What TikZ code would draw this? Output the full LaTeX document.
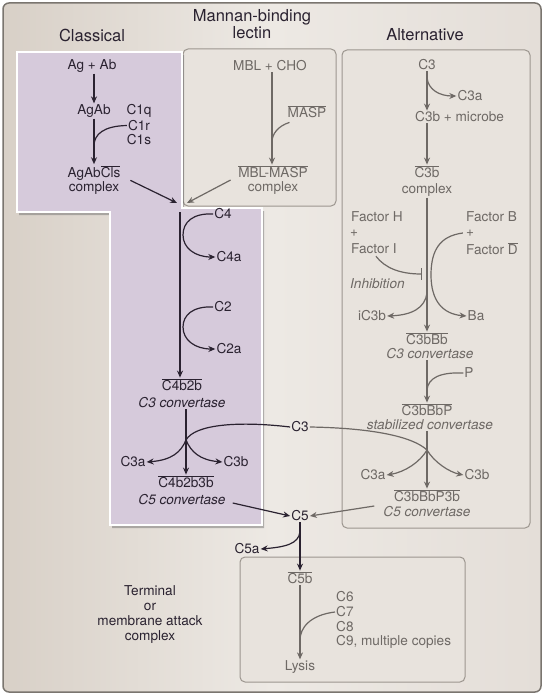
\documentclass[tikz,border=0pt]{standalone}
\usepackage{fontspec}
\setmainfont{TeX Gyre Heros}
\usetikzlibrary{arrows.meta,calc}
\definecolor{ink}{HTML}{2A2230}
\definecolor{gink}{HTML}{6E6965}
\definecolor{purp}{HTML}{D6CADB}
\definecolor{bgL}{HTML}{D8D0C7}
\definecolor{bgM}{HTML}{EDE9E4}
\definecolor{bgR}{HTML}{E4DED8}
\definecolor{boxf}{HTML}{E8E3DD}
\definecolor{boxd}{HTML}{9C968F}
\definecolor{framec}{HTML}{7A756F}
\newcommand\ovl[1]{$\overline{\mbox{#1}}$}
\begin{document}
\begin{tikzpicture}[x=1pt,y=-1pt,
 tx/.style={font=\fontsize{13.6}{15}\selectfont, inner sep=1pt, text=ink},
 gt/.style={tx, text=gink},
 itl/.style={font=\fontsize{13.6}{15}\selectfont\itshape},
 ttl/.style={font=\fontsize{16.5}{17}\selectfont, text=ink, align=center},
 arr/.style={draw=ink, line width=1.2pt, -{Stealth[length=7pt,width=6pt]}},
 ln/.style={draw=ink, line width=1.2pt},
 garr/.style={draw=gink, line width=1.2pt, -{Stealth[length=7pt,width=6pt]}},
 gln/.style={draw=gink, line width=1.2pt},
 pbox/.style={rounded corners=5pt, fill=boxf, draw=boxd, line width=1pt}]
\useasboundingbox (0,0) rectangle (544,695);
% frame
\shade[left color=bgL, right color=bgR, middle color=bgM, rounded corners=6pt] (3,3) rectangle (541,692);
\draw[framec, line width=1.5pt, rounded corners=6pt] (3,3) rectangle (541,692);
% boxes
\draw[pbox] (183,49) rectangle (336,206);
\draw[pbox] (342,50) rectangle (530,528);
\draw[pbox] (240,557) rectangle (465,682);
% purple region
\fill[black!60, opacity=0.45] (19,55) -- (184,55) -- (184,211) -- (264,211) -- (264,528) -- (112,528) -- (112,215) -- (19,215) -- cycle;
\filldraw[fill=purp, draw=white, line width=1.5pt] (17,52) -- (182,52) -- (182,208) -- (262,208) -- (262,525) -- (110,525) -- (110,212) -- (17,212) -- cycle;

% titles
\node[ttl] (tcl) at (92,35) {Classical};
\node[ttl] (tmbl) at (252,24) {Mannan-binding\\lectin};
\node[ttl] (talt) at (425,35) {Alternative};

% classical
\node[tx] (agab0) at (92,66) {Ag + Ab};
\node[tx] (agab) at (94,111) {AgAb};
\node[tx] (c1q) at (139,111) {C1q};
\node[tx] (c1r) at (139,125.5) {C1r};
\node[tx] (c1s) at (139,140) {C1s};
\node[tx] (agabcls) at (94,173) {AgAb\ovl{Cls}};
\node[tx] (cx1) at (94,188) {complex};
\draw[arr] (agab.north |- agab0.south) -- (agab.north);
\draw[arr] (agab.south) -- (agabcls.north);
\draw[ln] (c1r.west) .. controls (104,126) and (94,134) .. ($(agab.south)!0.6!(agabcls.north)$);
\coordinate (jn) at (182,206);
\draw[arr] ($(cx1.north east)+(10,0)$) -- ($(jn)+(-5,-3)$);

% MBL
\node[gt] (mbl) at (270,66) {MBL + CHO};
\node[gt] (masp) at (307,112) {\ovl{MASP}};
\node[gt] (mblmasp) at (273,172) {\ovl{MBL-MASP}};
\node[gt] (cx2) at (273,188) {complex};
\draw[garr] ($(mbl.south)+(2,0)$) -- ($(mblmasp.north)+(-1,0)$);
\draw[gln] ($(masp.south west)+(3,3)$) .. controls (278,126) and (272,134) .. (272,142);
\draw[garr] ($(cx2.west)+(-16,-8)$) -- ($(jn)+(5,-3)$);

% purple column
\coordinate (jtop) at (180,212);
\node[tx] (c4) at (223,214) {C4};
\node[tx] (c4a) at (229,257) {C4a};
\node[tx] (c2) at (223,307) {C2};
\node[tx] (c2a) at (229,349) {C2a};
\node[tx] (c4b2b) at (182,385) {\ovl{C4b2b}};
\node[tx, itl] (c3cv) at (182,403) {C3 convertase};
\draw[arr] (jtop) -- (jtop |- c4b2b.north);
\draw[arr] (c4.west) .. controls (193,213) and (183,222) .. (183,235) .. controls (183,248) and (195,257) .. (c4a.west);
\draw[arr] (c2.west) .. controls (193,306) and (183,315) .. (183,327) .. controls (183,340) and (195,349) .. (c2a.west);

\node[tx] (c4b2b3b) at (186,482) {\ovl{C4b2b3b}};
\node[tx, itl] (c5cv) at (182,500) {C5 convertase};
\node[tx] (c3a1) at (133,462) {C3a};
\node[tx] (c3b1) at (236,462) {C3b};
\node[tx] (c3m) at (300,427) {C3};
\coordinate (sp1) at (186,440);
\draw[arr] ($(c3cv.south)+(4,0)$) -- (c4b2b3b.north);
\draw[ln] (c3m.west) .. controls (240,421) and (195,424) .. (sp1);
\draw[arr] (sp1) .. controls (181,452) and (172,460) .. (c3a1.east);
\draw[arr] (sp1) .. controls (191,452) and (200,460) .. (c3b1.west);

% C5
\node[tx] (c5) at (300,516) {C5};
\node[tx] (c5a) at (247,549) {C5a};
\draw[arr] ($(c5cv.east)+(6,3)$) -- (c5.west);
\draw[arr] ($(c5.south)+(0,9)$) .. controls (299,544) and (285,547) .. (c5a.east);

% terminal
\node[gt] (c5b) at (300,578) {\ovl{C5b}};
\node[gt] (lys) at (300,667) {Lysis};
\node[gt, anchor=west] (c6) at (335,597) {C6};
\node[gt, anchor=west] (c7) at (335,612) {C7};
\node[gt, anchor=west] (c8) at (335,627) {C8};
\node[gt, anchor=west] (c9) at (335,642) {C9, multiple copies};
\draw[arr] (c5.south) -- (c5b.north);
\draw[garr] (c5b.south) -- (lys.north);
\draw[gln] (c7.west) .. controls (310,615) and (300,628) .. (300,640);
\node[tx, align=center, font=\fontsize{13.6}{15}\selectfont] (term) at (150,615) {Terminal\\or\\membrane attack\\complex};

% alternative
\node[gt] (c3A) at (427,65) {C3};
\node[gt] (c3aA) at (470,96) {C3a};
\node[gt, anchor=west] (c3bm) at (414,117) {C3b + microbe};
\node[gt] (c3bc) at (427,172) {\ovl{C3b}};
\node[gt] (cx3) at (427,190) {complex};
\draw[garr] (c3A.south) -- (c3A.south |- c3bm.north);
\draw[garr] ($(c3A.south)+(0,6)$) .. controls (428,90) and (440,96) .. (c3aA.west);
\draw[garr] (c3bm.south -| c3A) -- (c3bc.north);
\node[gt] (c3bbb) at (427,339) {\ovl{C3bBb}};
\draw[garr] (cx3.south) -- (c3bbb.north);
\node[gt, anchor=west] (fh) at (350,217) {Factor H};
\node[gt] (pl1) at (354,233) {+};
\node[gt, anchor=west] (fi) at (350,249) {Factor I};
\node[gt, anchor=west] (fb) at (465,217) {Factor B};
\node[gt] (pl2) at (470,233) {+};
\node[gt, anchor=west] (fd) at (465,249) {Factor \ovl{D}};
\node[gt, itl, anchor=west] (inh) at (349,284) {Inhibition};
\node[gt] (ic3b) at (372,316) {iC3b};
\node[gt] (ba) at (476,316) {Ba};
\draw[gln, -{Bar[width=12pt]}] ($(fi.south)+(2,1)$) .. controls (385,268) and (400,274) .. (422,274);
\draw[garr] ($(pl2.west)+(-2,0)$) .. controls (440,236) and (431,250) .. (431,275) .. controls (431,300) and (442,314) .. (ba.west);
\draw[garr] (427,293) .. controls (425,308) and (412,315) .. (ic3b.east);
\node[gt, itl] (c3cvA) at (430,354) {C3 convertase};
\node[gt] (pA) at (469,373) {P};
\node[gt] (c3bbbp) at (427,410) {\ovl{C3bBbP}};
\draw[garr] (c3cvA.south -| c3bbb) -- (c3bbbp.north);
\draw[gln] (pA.west) .. controls (440,372) and (428,378) .. (427,390);
\node[gt, itl] (stab) at (430,425) {stabilized convertase};
\node[gt] (c3bbbp3b) at (427,496) {\ovl{C3bBbP3b}};
\node[gt, itl] (c5cv2) at (427,512) {C5 convertase};
\draw[garr] (stab.south -| c3bbbp) -- (c3bbbp3b.north);
\coordinate (sp2) at (427,450);
\node[gt] (c3a2) at (373,475) {C3a};
\node[gt] (c3b2) at (477,475) {C3b};
\draw[gln] (c3m.east) .. controls (370,428) and (412,436) .. (sp2);
\draw[garr] (sp2) .. controls (420,462) and (405,472) .. (c3a2.east);
\draw[garr] (sp2) .. controls (434,462) and (449,472) .. (c3b2.west);
\draw[garr] ($(c5cv2.west)+(-8,-6)$) -- (c5.east);
\end{tikzpicture}
\end{document}
